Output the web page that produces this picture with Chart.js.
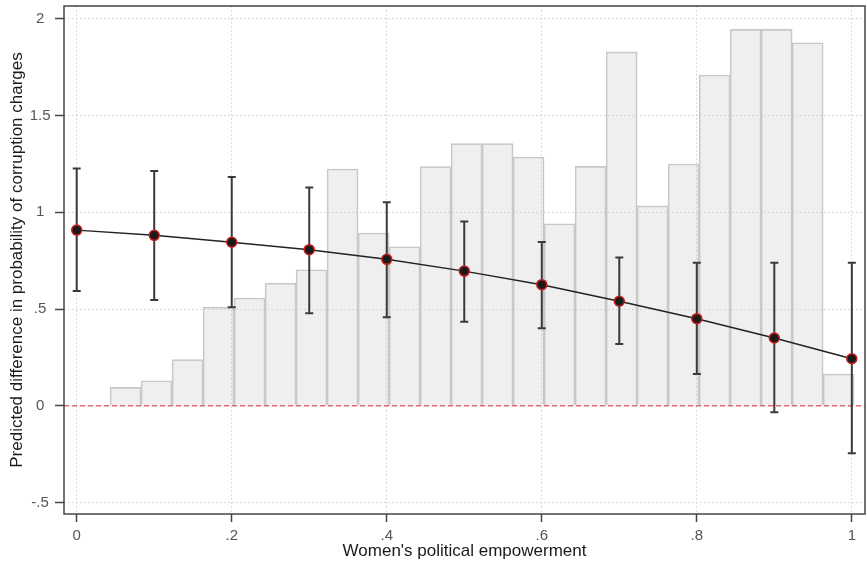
<!DOCTYPE html>
<html>
<head>
<meta charset="utf-8">
<script src="https://cdn.jsdelivr.net/npm/chart.js@4.4.1/dist/chart.umd.min.js"></script>
<style>
  html, body { margin: 0; padding: 0; background: #fff; }
  #wrap { width: 866px; height: 565px; position: relative; }
</style>
</head>
<body>
<div id="wrap"><canvas id="grafico" width="866" height="565"></canvas></div>
<script>
// marginal effect estimates
const empowerment = [0, 0.1, 0.2, 0.3, 0.4, 0.5, 0.6, 0.7, 0.8, 0.9, 1]
const effect = [0.908, 0.881, 0.845, 0.807, 0.757, 0.696, 0.626, 0.540, 0.450, 0.350, 0.243]
const ciLow = [0.593, 0.547, 0.509, 0.478, 0.457, 0.434, 0.400, 0.319, 0.164, -0.034, -0.246]
const ciHigh = [1.227, 1.214, 1.183, 1.129, 1.052, 0.953, 0.846, 0.767, 0.739, 0.739, 0.739]

// histogram of the moderator (bin centres, heights)
const binCenters = [0.063, 0.103, 0.143, 0.183, 0.223, 0.263, 0.303, 0.343, 0.383, 0.423, 0.463, 0.503,
                    0.543, 0.583, 0.623, 0.663, 0.703, 0.743, 0.783, 0.823, 0.863, 0.903, 0.943, 0.983]
const binHeights = [0.095, 0.129, 0.238, 0.510, 0.557, 0.634, 0.703, 1.224, 0.893, 0.822, 1.236, 1.355,
                    1.355, 1.286, 0.941, 1.238, 1.830, 1.033, 1.250, 1.710, 1.946, 1.946, 1.877, 0.164]

const xTicks = [0, 0.2, 0.4, 0.6, 0.8, 1]
const yTicks = [-0.5, 0, 0.5, 1, 1.5, 2]

const xTitle = "Women's political empowerment"
const yTitle = "Predicted difference in probability of corruption charges"

const fam = '"Liberation Sans", Arial, Helvetica, sans-serif'
const fmt = v => v === 0 ? '0' : String(v).replace('0.', '.')

// zero line + error bars drawn just before the line dataset, frame on top
const extras = {
  id: 'extras',
  beforeDatasetDraw(chart, args) {
    if (args.index !== 1) return
    const {ctx, chartArea, scales: {x, y}} = chart
    ctx.save()
    ctx.strokeStyle = '#e06a6a'
    ctx.lineWidth = 1.5
    ctx.setLineDash([5, 3])
    ctx.beginPath()
    ctx.moveTo(chartArea.left, y.getPixelForValue(0))
    ctx.lineTo(chartArea.right, y.getPixelForValue(0))
    ctx.stroke()
    ctx.setLineDash([])
    ctx.strokeStyle = '#3a3a3a'
    ctx.lineWidth = 2
    empowerment.forEach((v, i) => {
      const px = x.getPixelForValue(v)
      const lo = y.getPixelForValue(ciLow[i])
      const hi = y.getPixelForValue(ciHigh[i])
      ctx.beginPath()
      ctx.moveTo(px, lo); ctx.lineTo(px, hi)
      ctx.moveTo(px - 4, lo); ctx.lineTo(px + 4, lo)
      ctx.moveTo(px - 4, hi); ctx.lineTo(px + 4, hi)
      ctx.stroke()
    })
    ctx.restore()
  },
  afterDraw(chart) {
    const {ctx, chartArea: a} = chart
    ctx.save()
    ctx.strokeStyle = '#444'
    ctx.lineWidth = 1.5
    ctx.strokeRect(a.left, a.top, a.right - a.left, a.bottom - a.top)
    ctx.restore()
  }
}

const ctx = document.getElementById('grafico')
Chart.defaults.font.family = fam

let grafico = new Chart(ctx, {
  type: 'bar',
  data: {
    datasets: [{
      type: 'bar',
      data: binCenters.map((c, i) => ({x: c, y: binHeights[i]})),
      backgroundColor: 'rgba(205,205,205,0.32)',
      borderColor: '#c8c8c8',
      borderWidth: 1,
      barPercentage: 1,
      categoryPercentage: 1,
      order: 2
    }, {
      type: 'line',
      data: empowerment.map((v, i) => ({x: v, y: effect[i]})),
      borderColor: '#222',
      borderWidth: 1.5,
      pointRadius: 5,
      pointBackgroundColor: '#1a1a1a',
      pointBorderColor: '#c81e1e',
      pointBorderWidth: 1.5,
      tension: 0,
      clip: false,
      order: 1
    }]
  },
  options: {
    responsive: false,
    animation: false,
    layout: { autoPadding: false, padding: { top: 6, right: 1, left: 0, bottom: 0 } },
    plugins: { legend: { display: false }, tooltip: { enabled: false } },
    scales: {
      x: {
        type: 'linear',
        offset: false,
        min: -0.0164,
        max: 1.017,
        afterBuildTicks: s => { s.ticks = xTicks.map(v => ({value: v})) },
        afterFit: s => { s.height = 51; s.paddingLeft = 0; s.paddingRight = 0 },
        ticks: { callback: fmt, color: '#555', font: { size: 15 }, padding: 5, maxRotation: 0 },
        grid: { offset: false, color: '#cfcfcf', lineWidth: 1, tickLength: 8, tickColor: '#444', tickWidth: 1.5 },
        border: { display: false, dash: [1.5, 2.5] },
        title: { display: true, text: xTitle, color: '#1a1a1a', font: { size: 17 }, padding: { top: 0, bottom: 3 } }
      },
      y: {
        min: -0.56,
        max: 2.067,
        afterBuildTicks: s => { s.ticks = yTicks.map(v => ({value: v})) },
        afterFit: s => { s.width = 64; s.paddingTop = 0; s.paddingBottom = 0 },
        ticks: { callback: fmt, color: '#555', font: { size: 15 }, padding: 4.5, crossAlign: 'center' },
        grid: { color: '#cfcfcf', lineWidth: 1, tickLength: 9, tickColor: '#444', tickWidth: 1.5 },
        border: { display: false, dash: [1.5, 2.5] },
        title: { display: true, text: yTitle, color: '#1a1a1a', font: { size: 17 }, padding: { top: 7, bottom: 0 } }
      }
    }
  },
  plugins: [extras]
})
</script>
</body>
</html>
